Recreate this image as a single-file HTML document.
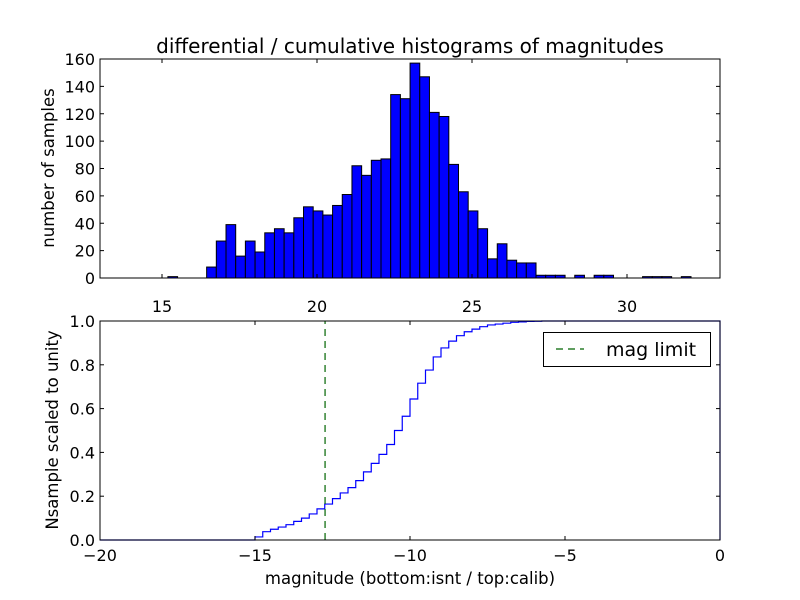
<!DOCTYPE html>
<html><head><meta charset="utf-8"><style>
html,body{margin:0;padding:0;background:#fff;}
svg{display:block;font-family:"DejaVu Sans","Liberation Sans",sans-serif;}
</style></head><body>
<svg id="fig" width="800" height="600" viewBox="0 0 800 600" xmlns="http://www.w3.org/2000/svg">
<rect width="800" height="600" fill="#fff"/>
<g id="topPanel"></g>
<g id="botPanel"></g>
</svg>
<script>
// ---- top histogram data ----
const histStart = 15.19;
const histWidth = 0.3125;
const histCounts = [1,0,0,0,8,27,39,16,27,19,33,36,33,44,52,49,46,53,61,82,75,86,87,134,131,157,147,121,118,83,63,49,36,14,25,13,11,11,2,2,2,0,2,0,2,2,0,0,0,1,1,1,0,1];
const topXTicks = [15,20,25,30];
const topYTicks = [0,20,40,60,80,100,120,140,160];
// ---- bottom cumulative data ----
const cumStart = -15;
const cumWidth = 0.25;
const cumValues = [0.014,0.038,0.049,0.059,0.070,0.085,0.100,0.119,0.142,0.164,0.189,0.215,0.239,0.271,0.311,0.350,0.391,0.436,0.500,0.565,0.644,0.716,0.776,0.836,0.877,0.908,0.933,0.951,0.963,0.974,0.982,0.986,0.990,0.994,0.996,0.998,0.999,1.0];
const magLimit = -12.74;
const botXTicks = [-20,-15,-10,-5,0];
const botYTicks = [0.0,0.2,0.4,0.6,0.8,1.0];

const NS="http://www.w3.org/2000/svg";
function mk(tag,attrs,parent,text){const e=document.createElementNS(NS,tag);for(const k in attrs)e.setAttribute(k,attrs[k]);if(text!==undefined)e.textContent=text;parent.appendChild(e);return e;}

const L=100,R=720;
const tX=v=>L+(v-13)/(33-13)*(R-L);
const tY=v=>278-(v/160)*(278-59);
const bX=v=>L+(v+20)/20*(R-L);
const bY=v=>540-v*(540-321);
const TF=16;

const topG=document.getElementById('topPanel');
const botG=document.getElementById('botPanel');

histCounts.forEach((c,i)=>{
  if(c<=0)return;
  const x0=tX(histStart+i*histWidth),x1=tX(histStart+(i+1)*histWidth);
  const r=mk('rect',{x:x0,y:tY(c),width:x1-x0,height:tY(0)-tY(c),fill:'#0000ff',stroke:'#000','stroke-width':1},topG);
  
  
});
const tf=mk('rect',{x:L,y:59,width:R-L,height:219,fill:'none',stroke:'#000','stroke-width':1},topG);


topXTicks.forEach(v=>{
  const x=tX(v);
  mk('line',{x1:x,y1:278,x2:x,y2:274,stroke:'#000'},topG);
  mk('line',{x1:x,y1:59,x2:x,y2:63,stroke:'#000'},topG);
  const t=mk('text',{x:x,y:312,'font-size':TF,'text-anchor':'middle'},topG,String(v));
  
  
});
topYTicks.forEach(v=>{
  const y=tY(v);
  mk('line',{x1:L,y1:y,x2:L+4,y2:y,stroke:'#000'},topG);
  mk('line',{x1:R,y1:y,x2:R-4,y2:y,stroke:'#000'},topG);
  const t=mk('text',{x:95,y:y+6,'font-size':TF,'text-anchor':'end'},topG,String(v));
  
  
});
let e=mk('text',{x:410,y:53,'font-size':20,'text-anchor':'middle'},topG,'differential / cumulative histograms of magnitudes');


e=mk('text',{x:0,y:0,'font-size':16.5,'text-anchor':'middle',transform:'translate(54,168) rotate(-90)'},topG,'number of samples');



let pts=[[bX(-20),bY(0)],[bX(cumStart),bY(0)]];
cumValues.forEach((v,i)=>{
  const x0=bX(cumStart+i*cumWidth),x1=bX(cumStart+(i+1)*cumWidth);
  pts.push([x0,bY(v)]);pts.push([x1,bY(v)]);
});
pts.push([bX(0),bY(cumValues[cumValues.length-1])]);
pts.push([bX(0),bY(0)]);
e=mk('polyline',{points:pts.map(p=>p.join(',')).join(' '),fill:'none',stroke:'#0000ff','stroke-width':1.2},botG);


e=mk('line',{x1:bX(magLimit),y1:bY(0),x2:bX(magLimit),y2:bY(1),stroke:'#006400','stroke-width':1.2,'stroke-dasharray':'7,5'},botG);


const bf=mk('rect',{x:L,y:321,width:R-L,height:219,fill:'none',stroke:'#000','stroke-width':1},botG);


botXTicks.forEach(v=>{
  const x=bX(v);
  mk('line',{x1:x,y1:540,x2:x,y2:536,stroke:'#000'},botG);
  mk('line',{x1:x,y1:321,x2:x,y2:325,stroke:'#000'},botG);
  const t=mk('text',{x:x,y:561,'font-size':TF,'text-anchor':'middle'},botG,v<0?'\u2212'+(-v):String(v));
  
  
});
botYTicks.forEach(v=>{
  const y=bY(v);
  mk('line',{x1:L,y1:y,x2:L+4,y2:y,stroke:'#000'},botG);
  mk('line',{x1:R,y1:y,x2:R-4,y2:y,stroke:'#000'},botG);
  const t=mk('text',{x:95,y:y+6,'font-size':TF,'text-anchor':'end'},botG,v.toFixed(1));
  
  
});
e=mk('text',{x:410,y:584,'font-size':16.5,'text-anchor':'middle'},botG,'magnitude (bottom:isnt / top:calib)');


e=mk('text',{x:0,y:0,'font-size':16.5,'text-anchor':'middle',transform:'translate(58,430) rotate(-90)'},botG,'Nsample scaled to unity');


const lg=mk('g',{},botG);


mk('rect',{x:543.5,y:332.5,width:167,height:34,fill:'#fff',stroke:'#000','stroke-width':1},lg);
mk('line',{x1:556,y1:349,x2:584,y2:349,stroke:'#006400','stroke-width':1.2,'stroke-dasharray':'7,5'},lg);
e=mk('text',{x:606,y:356,'font-size':19},lg,'mag limit');


</script>
</body></html>
